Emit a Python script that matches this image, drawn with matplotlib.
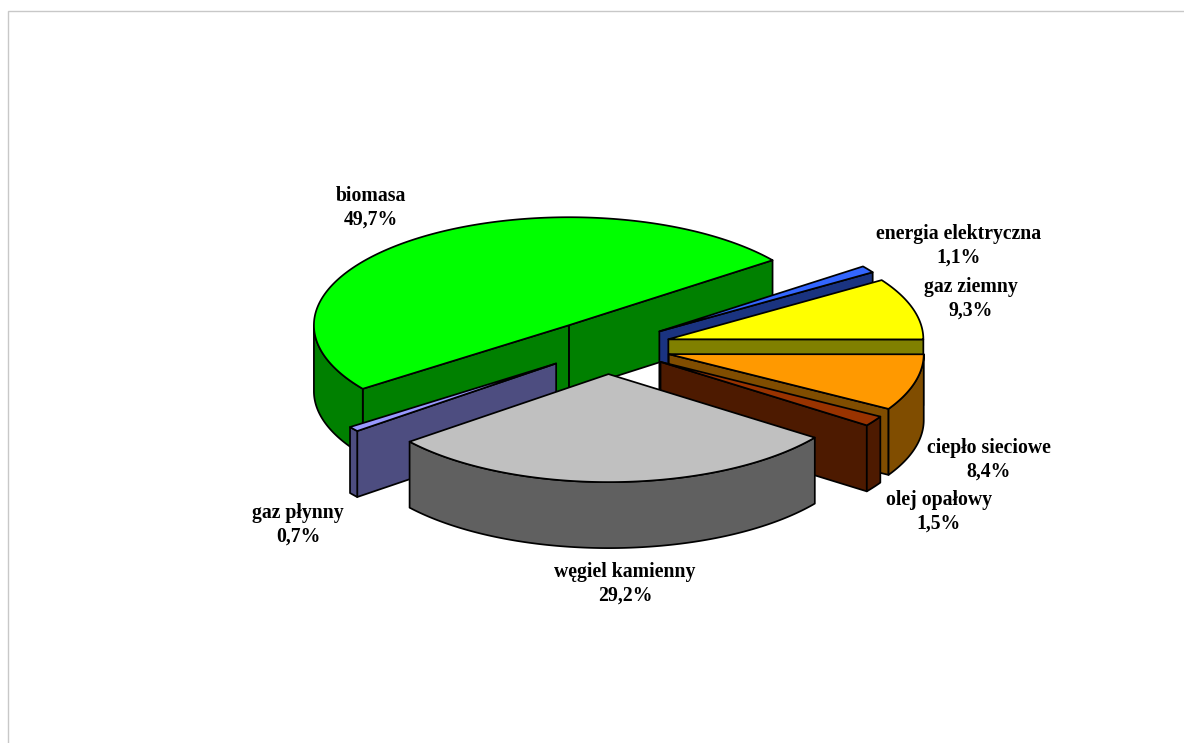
import numpy as np
import matplotlib
matplotlib.use('Agg')
import matplotlib.pyplot as plt
from matplotlib.patches import Polygon

# Pie data, in drawing order round the circle (counter-clockwise)
names = ['biomasa', 'gaz płynny', 'węgiel kamienny', 'olej opałowy',
         'ciepło sieciowe', 'gaz ziemny', 'energia elektryczna']
# unrounded estimates, they round to the printed labels
shares = [49.74, 0.74, 29.24, 1.54, 8.44, 9.25, 1.05]
value_labels = ['49,7%', '0,7%', '29,2%', '1,5%', '8,4%', '9,3%', '1,1%']

top_colors = ['#00FF00', '#9999FF', '#C0C0C0', '#993300', '#FF9900', '#FFFF00', '#3366FF']
wall_colors = ['#008000', '#4D4D80', '#606060', '#4D1A00', '#804D00', '#808000', '#1A3380']
label_pos = [(371, 208), (298, 525), (625, 584), (939, 512), (989, 460), (971, 299), (959, 246)]

# Pie geometry in pixels
cx, cy = 607, 347
rx, ry = 255, 108
depth = 66
explode = 64 / rx
first_angle = 37.0

plt.rcParams['font.family'] = ['Liberation Serif', 'DejaVu Serif']

fig = plt.figure(figsize=(11.84, 7.43), dpi=100)
ax = fig.add_axes([0, 0, 1, 1])
ax.set_xlim(0, 1184)
ax.set_ylim(743, 0)
ax.axis('off')

# Chart area border, only top and left are in the picture
ax.plot([8, 8, 1184], [743, 11, 11], color='#C8C8C8', lw=1.0, solid_joinstyle='miter')


def ellipse_points(x0, y0, start, stop):
    n = max(int(abs(stop - start)) * 2, 2)
    t = np.radians(np.linspace(start, stop, n))
    return np.column_stack([x0 + rx * np.cos(t), y0 - ry * np.sin(t)])


def add_face(pts, color, order):
    ax.add_patch(Polygon(pts, closed=True, facecolor=color, edgecolor='black',
                         lw=1.25, joinstyle='round', zorder=order))


# Angles come from the shares
sweep = np.array(shares) / sum(shares) * 360
starts = first_angle + np.concatenate([[0], np.cumsum(sweep)[:-1]])
stops = starts + sweep
mids = (starts + stops) / 2

# Back slices first
order = np.argsort(-np.sin(np.radians(mids)))
z = 2
for i in order:
    a, b, m = starts[i], stops[i], mids[i]
    x0 = cx + explode * rx * np.cos(np.radians(m))
    y0 = cy - explode * ry * np.sin(np.radians(m))
    down = np.array([0, depth])
    apex = np.array([x0, y0])

    # cut faces, drawn only when they turn towards the viewer
    for ang, visible in ((a, np.cos(np.radians(a)) > 0), (b, np.cos(np.radians(b)) < 0)):
        if visible:
            rim = ellipse_points(x0, y0, ang, ang)[0]
            add_face([apex, rim, rim + down, apex + down], wall_colors[i], z)
            z += 1

    # outer wall on the front half of the ellipse
    lo, hi = max(a, 180), min(b, 360)
    if hi - lo > 0.5:
        arc = ellipse_points(x0, y0, lo, hi)
        add_face(np.vstack([arc, (arc + down)[::-1]]), wall_colors[i], z)
        z += 1

    # top
    add_face(np.vstack([apex, ellipse_points(x0, y0, a, b)]), top_colors[i], z)
    z += 1

for name, val, pos in zip(names, value_labels, label_pos):
    ax.text(pos[0], pos[1], name + '\n' + val, ha='center', va='center', fontsize=14.2,
            fontweight='bold', color='black', linespacing=1.25, zorder=z)

fig.savefig('out.png', dpi=100, facecolor='white')
